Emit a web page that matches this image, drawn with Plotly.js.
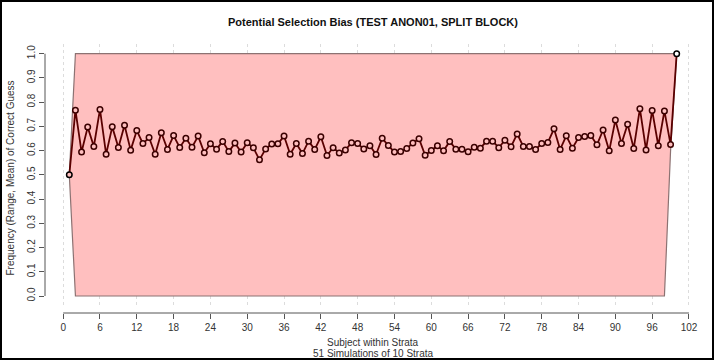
<!DOCTYPE html>
<html>
<head>
<meta charset="utf-8">
<script src="https://cdn.plot.ly/plotly-3.0.1.min.js"></script>
<style>
html,body{margin:0;padding:0;background:#fff;}
#chart{width:714px;height:360px;}
</style>
</head>
<body>
<div id="chart"></div>
<script>
// Subject position within strata
const subjects = [1,2,3,4,5,6,7,8,9,10,11,12,13,14,15,16,17,18,19,20,
  21,22,23,24,25,26,27,28,29,30,31,32,33,34,35,36,37,38,39,40,
  41,42,43,44,45,46,47,48,49,50,51,52,53,54,55,56,57,58,59,60,
  61,62,63,64,65,66,67,68,69,70,71,72,73,74,75,76,77,78,79,80,
  81,82,83,84,85,86,87,88,89,90,91,92,93,94,95,96,97,98,99,100];

// Mean frequency of a correct guess
const meanGuess = [
  0.500,0.767,0.594,0.697,0.617,0.770,0.585,0.698,0.613,0.705,
  0.602,0.683,0.629,0.654,0.585,0.674,0.605,0.662,0.613,0.651,
  0.614,0.660,0.591,0.628,0.606,0.638,0.596,0.631,0.594,0.632,
  0.612,0.562,0.607,0.627,0.628,0.660,0.585,0.629,0.588,0.639,
  0.605,0.657,0.580,0.612,0.590,0.603,0.632,0.629,0.607,0.620,
  0.584,0.651,0.621,0.594,0.596,0.609,0.631,0.649,0.581,0.601,
  0.620,0.599,0.638,0.606,0.606,0.595,0.614,0.610,0.639,0.639,
  0.612,0.643,0.616,0.669,0.617,0.617,0.605,0.629,0.634,0.690,
  0.605,0.661,0.610,0.654,0.658,0.662,0.624,0.685,0.599,0.726,
  0.629,0.709,0.609,0.773,0.603,0.766,0.620,0.764,0.625,1.000];

// Range (max) of correct guess frequency
const rangeMax = [
  0.5,1,1,1,1,1,1,1,1,1, 1,1,1,1,1,1,1,1,1,1,
  1,1,1,1,1,1,1,1,1,1, 1,1,1,1,1,1,1,1,1,1,
  1,1,1,1,1,1,1,1,1,1, 1,1,1,1,1,1,1,1,1,1,
  1,1,1,1,1,1,1,1,1,1, 1,1,1,1,1,1,1,1,1,1,
  1,1,1,1,1,1,1,1,1,1, 1,1,1,1,1,1,1,1,1,1];

// Range (min) of correct guess frequency
const rangeMin = [
  0.5,0,0,0,0,0,0,0,0,0, 0,0,0,0,0,0,0,0,0,0,
  0,0,0,0,0,0,0,0,0,0, 0,0,0,0,0,0,0,0,0,0,
  0,0,0,0,0,0,0,0,0,0, 0,0,0,0,0,0,0,0,0,0,
  0,0,0,0,0,0,0,0,0,0, 0,0,0,0,0,0,0,0,0,0,
  0,0,0,0,0,0,0,0,0,0, 0,0,0,0,0,0,0,0,0.6,1];

const xTickVals = [0,6,12,18,24,30,36,42,48,54,60,66,72,78,84,90,96,102];
const yTickVals = [0,0.1,0.2,0.3,0.4,0.5,0.6,0.7,0.8,0.9,1.0];

const titleText = 'Potential Selection Bias (TEST ANON01, SPLIT BLOCK)';
const xTitle1 = 'Subject within Strata';
const xTitle2 = '51 Simulations of 10 Strata';
const yTitle = 'Frequency (Range, Mean) of Correct Guess';

const FONT = 'Liberation Sans, Arial, Helvetica, sans-serif';

const polyX = subjects.concat(subjects.slice().reverse());
const polyY = rangeMax.concat(rangeMin.slice().reverse());

const n = subjects.length;
const mFill = subjects.map((s,i) => i === n-1 ? '#ffffff' : '#ffbfbf');
const mLine = subjects.map((s,i) => (i === 0 || i === n-1) ? '#000000' : '#3a0000');

const traces = [
  {
    x: polyX, y: polyY, type: 'scatter', mode: 'lines',
    fill: 'toself', fillcolor: '#ffbfbf',
    line: {color: '#8c7272', width: 1.2},
    hoverinfo: 'skip', showlegend: false
  },
  {
    x: subjects, y: meanGuess, type: 'scatter', mode: 'lines+markers',
    line: {color: '#5a0000', width: 1.8},
    marker: {symbol: 'circle', size: 5.5, color: mFill, line: {color: mLine, width: 1.5}},
    showlegend: false
  }
];

const W = 714, H = 360, mL = 45, mR = 13, mT = 44, mB = 47;
const pw = W - mL - mR, ph = H - mT - mB;
// plot region bottom (value -0.04) sits at y=305.7; axis line drawn at y=313
const yDom0 = (H - mB - 305.7) > 0 ? (H - mB - 305.7) / ph : 0;

const layout = {
  width: W, height: H,
  margin: {l: mL, r: mR, t: mT, b: mB, pad: 0},
  paper_bgcolor: '#ffffff', plot_bgcolor: '#ffffff',
  font: {family: FONT, size: 10, color: '#333'},
  title: {
    text: '<b>' + titleText + '</b>',
    x: 0.5, xref: 'paper', xanchor: 'center',
    y: 1 - 22/H, yref: 'container', yanchor: 'middle',
    font: {family: FONT, size: 11, color: '#111'}
  },
  xaxis: {
    range: [-2.96, 103.96], tickmode: 'array', tickvals: xTickVals,
    ticktext: xTickVals.map(String),
    anchor: 'free', position: 0,
    ticks: 'outside', ticklen: 5, tickwidth: 1, tickcolor: '#555',
    showline: false, zeroline: false,
    showgrid: true, gridcolor: '#dcdcdc', griddash: 'dot', gridwidth: 1,
    tickfont: {family: FONT, size: 10, color: '#333'}
  },
  yaxis: {
    range: [-0.04, 1.04], domain: [yDom0, 1],
    tickmode: 'array', tickvals: yTickVals,
    ticktext: yTickVals.map(v => v.toFixed(1)),
    tickangle: -90,
    ticks: 'outside', ticklen: 5, tickwidth: 1, tickcolor: '#555',
    showline: false, zeroline: false, showgrid: false,
    tickfont: {family: FONT, size: 10, color: '#333'}
  },
  shapes: [
    {type: 'line', xref: 'x', yref: 'paper', x0: 0, x1: 102, y0: 0, y1: 0,
     line: {color: '#555', width: 1}},
    {type: 'line', xref: 'paper', yref: 'y', x0: 0, x1: 0, y0: 0, y1: 1,
     line: {color: '#555', width: 1}},
    {type: 'rect', xref: 'paper', yref: 'paper',
     x0: -mL/pw + 1/pw, x1: (W - mL)/pw - 1/pw,
     y0: -mB/ph + 1/ph, y1: (H - mB)/ph - 1/ph,
     line: {color: '#000', width: 2}, fillcolor: 'rgba(0,0,0,0)'}
  ],
  annotations: [
    {text: xTitle1, xref: 'paper', yref: 'paper', x: 0.5, y: 0,
     xanchor: 'center', yanchor: 'middle', yshift: -29, showarrow: false,
     font: {family: FONT, size: 10, color: '#333'}},
    {text: xTitle2, xref: 'paper', yref: 'paper', x: 0.5, y: 0,
     xanchor: 'center', yanchor: 'middle', yshift: -40, showarrow: false,
     font: {family: FONT, size: 10, color: '#333'}},
    {text: yTitle, xref: 'paper', yref: 'paper', x: 0, y: 0.5,
     xanchor: 'center', yanchor: 'middle', xshift: -35, textangle: -90,
     showarrow: false, font: {family: FONT, size: 10, color: '#333'}}
  ]
};

Plotly.newPlot('chart', traces, layout, {displayModeBar: false, staticPlot: true});
</script>
</body>
</html>
